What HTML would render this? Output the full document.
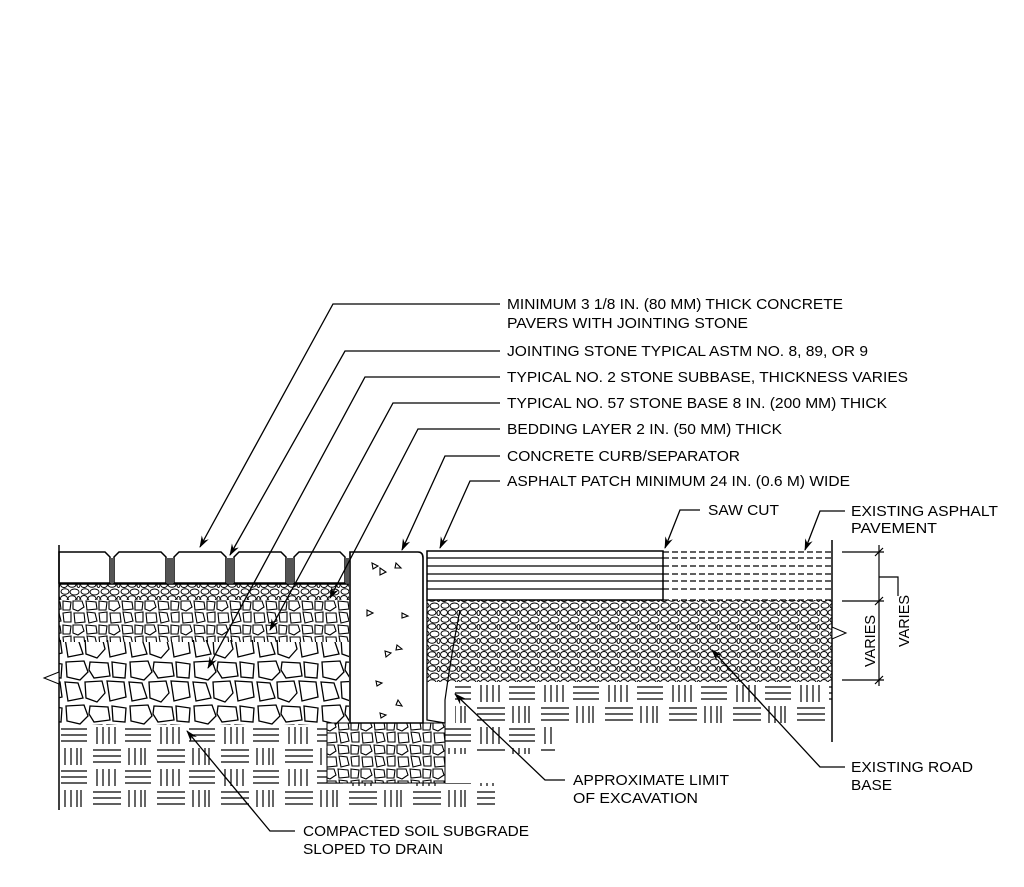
<!DOCTYPE html>
<html><head><meta charset="utf-8"><style>
html,body{margin:0;padding:0;background:#fff;width:1024px;height:887px;overflow:hidden}
svg{display:block}
text{font-family:"Liberation Sans",Arial,sans-serif;font-size:15px;fill:#000}
</style></head><body>
<svg width="1024" height="887" viewBox="0 0 1024 887" xmlns="http://www.w3.org/2000/svg">
<defs>
<pattern id="soil" x="59" y="725" width="64" height="42" patternUnits="userSpaceOnUse">
<g stroke="#000" stroke-width="1.2" fill="none">
<path d="M2 4H28M2 10H28M2 16H28"/>
<path d="M38 2V19M44 2V19M50 2V19"/>
<path d="M6 23V40M12 23V40M18 23V40"/>
<path d="M34 25H62M34 31H62M34 37H62"/>
<path d="M56 2V19M22 23V40"/>
</g></pattern>
<pattern id="big" x="0" y="0" width="64" height="44" patternUnits="userSpaceOnUse">
<g stroke="#000" stroke-width="1.3" fill="#fff">
<polygon points="2,2 20,1 24,12 16,20 3,17"/>
<polygon points="26,2 44,3 46,16 30,18 25,10"/>
<polygon points="48,2 62,4 61,18 49,17"/>
<polygon points="1,22 14,23 19,38 4,41"/>
<polygon points="21,22 38,21 41,33 33,42 22,38"/>
<polygon points="43,21 60,22 62,37 46,41"/>
</g></pattern>
<pattern id="med" x="0" y="0" width="36" height="24" patternUnits="userSpaceOnUse">
<g stroke="#000" stroke-width="1.1" fill="#fff">
<polygon points="1,1 10,1 12,7 6,11 1,9"/>
<polygon points="14,1 24,2 25,9 15,10"/>
<polygon points="27,1 35,2 34,10 27,10"/>
<polygon points="2,13 12,13 13,22 3,23"/>
<polygon points="15,12 23,13 25,21 17,23"/>
<polygon points="27,13 35,12 35,22 28,22"/>
</g></pattern>
<pattern id="fine" x="0" y="0" width="20" height="14" patternUnits="userSpaceOnUse">
<g stroke="#000" stroke-width="1" fill="#fff">
<ellipse cx="5" cy="3.5" rx="4" ry="2.8"/>
<ellipse cx="14.5" cy="4" rx="4.5" ry="3"/>
<ellipse cx="4" cy="10.5" rx="3.5" ry="3"/>
<ellipse cx="12" cy="10.5" rx="4" ry="2.8"/>
<ellipse cx="18.5" cy="11" rx="1.5" ry="2.5"/>
</g></pattern>
<marker id="ah" markerWidth="12" markerHeight="8" refX="11" refY="4" orient="auto" markerUnits="userSpaceOnUse">
<path d="M0,0 L12,4 L0,8 L4,4 Z" fill="#000"/></marker>
</defs>

<rect x="59" y="725" width="268" height="84" fill="url(#soil)"/>
<rect x="327" y="783" width="168" height="26" fill="url(#soil)"/>
<rect x="445" y="724" width="110" height="30" fill="url(#soil)"/>
<rect x="455" y="682" width="377" height="44" fill="url(#soil)"/>

<rect x="59" y="640" width="290" height="85" fill="url(#big)"/>
<rect x="59" y="598" width="290" height="44" fill="url(#med)"/>
<rect x="59" y="584" width="290" height="16" fill="url(#fine)"/>
<rect x="327" y="723" width="118" height="60" fill="url(#med)" stroke="#000"/>
<rect x="427" y="600" width="405" height="82" fill="url(#fine)"/>
<path d="M427 600 V720 L445 723" fill="none" stroke="#000" stroke-width="1.3"/>
<path d="M445 723 V700 Q452 650 460 610" fill="none" stroke="#000" stroke-width="1.2"/>

<g stroke="#000" stroke-width="1.5" fill="#fff">
<path d="M59 552 H105 L110 557 V583 H59 Z"/>
<path d="M114 557 L119 552 H161 L166 557 V583 H114 Z"/>
<path d="M174 557 L179 552 H221 L226 557 V583 H174 Z"/>
<path d="M234 557 L239 552 H281 L286 557 V583 H234 Z"/>
<path d="M294 557 L299 552 H340 L345 557 V583 H294 Z"/>
</g>
<g>
<rect x="110" y="558" width="4" height="25" fill="#555"/><rect x="166" y="558" width="8" height="25" fill="#555"/>
<rect x="226" y="558" width="8" height="25" fill="#555"/><rect x="286" y="558" width="8" height="25" fill="#555"/>
<rect x="345" y="558" width="4" height="25" fill="#555"/>
</g>
<line x1="59" y1="584" x2="349" y2="584" stroke="#000" stroke-width="1.5"/>

<path d="M350 552 H418 Q423 552 423 558 V723 H350 Z" fill="#fff" stroke="#000" stroke-width="1.6"/>
<g fill="none" stroke="#000" stroke-width="1.1">
<path d="M372 563l6 3l-5 3z M380 568l6 4l-6 3z M396 563l5 5l-6 0z M367 610l6 3l-6 3z M402 613l6 3l-6 2z M385 651l6 2l-5 4z M397 645l5 4l-6 1z M376 681l6 2l-5 3z M398 700l4 6l-6 -1z M380 713l6 2l-5 3z"/>
</g>

<rect x="427" y="551" width="236" height="49" fill="#fff" stroke="#000" stroke-width="1.5"/>
<g stroke="#000" stroke-width="1.2">
<line x1="427" y1="558" x2="663" y2="558"/><line x1="427" y1="566" x2="663" y2="566"/>
<line x1="427" y1="574" x2="663" y2="574"/><line x1="427" y1="581" x2="663" y2="581"/>
<line x1="427" y1="589" x2="663" y2="589"/>
</g>
<g stroke="#000" stroke-width="1.2" stroke-dasharray="6,3">
<line x1="663" y1="552" x2="832" y2="552"/><line x1="663" y1="558" x2="832" y2="558"/>
<line x1="663" y1="566" x2="832" y2="566"/><line x1="663" y1="574" x2="832" y2="574"/>
<line x1="663" y1="581" x2="832" y2="581"/><line x1="663" y1="589" x2="832" y2="589"/>
<line x1="663" y1="600" x2="832" y2="600"/>
</g>

<line x1="59" y1="545" x2="59" y2="810" stroke="#000" stroke-width="1.5"/>
<path d="M44 678 L59 672 L59 684 Z" fill="#fff" stroke="#000"/>
<line x1="832" y1="540" x2="832" y2="742" stroke="#000" stroke-width="1.5"/>
<path d="M846 633 L832 627 L832 639 Z" fill="#fff" stroke="#000"/>

<g stroke="#000" stroke-width="1.2" fill="none">
<line x1="842" y1="552" x2="884" y2="552"/><line x1="842" y1="601" x2="884" y2="601"/>
<line x1="842" y1="680" x2="884" y2="680"/>
<line x1="879" y1="545" x2="879" y2="686"/>
<path d="M875 556l8 -8M875 605l8 -8M875 684l8 -8"/>
<path d="M879 577 H898 V596"/>
</g>
<text transform="translate(875,641) rotate(-90)" text-anchor="middle" textLength="52" lengthAdjust="spacingAndGlyphs">VARIES</text>
<text transform="translate(909,621) rotate(-90)" text-anchor="middle" textLength="52" lengthAdjust="spacingAndGlyphs">VARIES</text>

<g stroke="#000" stroke-width="1.3" fill="none" marker-end="url(#ah)">
<path d="M500 304 H333 L200 547"/>
<path d="M500 351 H345 L230 555"/>
<path d="M500 377 H365 L208 668"/>
<path d="M500 403 H393 L270 630"/>
<path d="M500 429 H418 L330 598"/>
<path d="M500 456 H445 L402 550"/>
<path d="M500 481 H470 L440 548"/>
<path d="M700 510 H680 L665 548"/>
<path d="M845 511 H820 L805 550"/>
<path d="M565 780 H545 L455 694"/>
<path d="M845 767 H820 L712 650"/>
<path d="M295 831 H270 L187 731"/>
</g>

<text x="507" y="309" textLength="336" lengthAdjust="spacingAndGlyphs">MINIMUM 3 1/8 IN. (80 MM) THICK CONCRETE</text>
<text x="507" y="328" textLength="241" lengthAdjust="spacingAndGlyphs">PAVERS WITH JOINTING STONE</text>
<text x="507" y="356" textLength="361" lengthAdjust="spacingAndGlyphs">JOINTING STONE TYPICAL ASTM NO. 8, 89, OR 9</text>
<text x="507" y="382" textLength="401" lengthAdjust="spacingAndGlyphs">TYPICAL NO. 2 STONE SUBBASE, THICKNESS VARIES</text>
<text x="507" y="408" textLength="380" lengthAdjust="spacingAndGlyphs">TYPICAL NO. 57 STONE BASE 8 IN. (200 MM) THICK</text>
<text x="507" y="434" textLength="275" lengthAdjust="spacingAndGlyphs">BEDDING LAYER 2 IN. (50 MM) THICK</text>
<text x="507" y="461" textLength="233" lengthAdjust="spacingAndGlyphs">CONCRETE CURB/SEPARATOR</text>
<text x="507" y="486" textLength="343" lengthAdjust="spacingAndGlyphs">ASPHALT PATCH MINIMUM 24 IN. (0.6 M) WIDE</text>
<text x="708" y="515" textLength="71" lengthAdjust="spacingAndGlyphs">SAW CUT</text>
<text x="851" y="516" textLength="147" lengthAdjust="spacingAndGlyphs">EXISTING ASPHALT</text>
<text x="851" y="533" textLength="86" lengthAdjust="spacingAndGlyphs">PAVEMENT</text>
<text x="573" y="785" textLength="156" lengthAdjust="spacingAndGlyphs">APPROXIMATE LIMIT</text>
<text x="573" y="803" textLength="125" lengthAdjust="spacingAndGlyphs">OF EXCAVATION</text>
<text x="851" y="772" textLength="122" lengthAdjust="spacingAndGlyphs">EXISTING ROAD</text>
<text x="851" y="790" textLength="41" lengthAdjust="spacingAndGlyphs">BASE</text>
<text x="303" y="836" textLength="226" lengthAdjust="spacingAndGlyphs">COMPACTED SOIL SUBGRADE</text>
<text x="303" y="854" textLength="140" lengthAdjust="spacingAndGlyphs">SLOPED TO DRAIN</text>
</svg>
</body></html>
